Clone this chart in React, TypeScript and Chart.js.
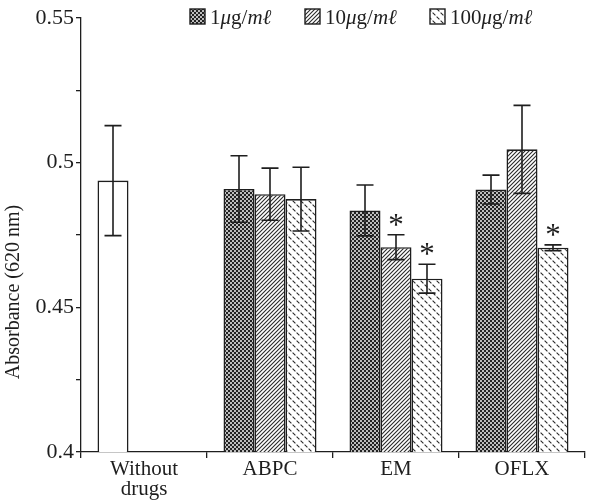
import React, { useEffect, useRef } from 'react';
import { Chart, registerables } from 'chart.js';

Chart.register(...registerables);

const categories: (string | string[])[] = [['Without', 'drugs'], 'ABPC', 'EM', 'OFLX'];
const controlValues = [0.4938, null, null, null];
const controlErrors = [0.019, null, null, null];
const dose1Values = [null, 0.4909, 0.4835, 0.4907];
const dose1Errors = [null, 0.0115, 0.0088, 0.005];
const dose10Values = [null, 0.4891, 0.4708, 0.5046];
const dose10Errors = [null, 0.009, 0.0043, 0.0152];
const dose100Values = [null, 0.4874, 0.4599, 0.4706];
const dose100Errors = [null, 0.011, 0.005, 0.001];
const dose10Sig = [false, false, true, false];
const dose100Sig = [false, false, true, true];
const legendDoses = ['1', '10', '100'];
const yMin = 0.4;
const yMax = 0.55;
const yStep = 0.025;
const yTitle = 'Absorbance (620 nm)';

const INK = '#1e1e1e';
const SERIF = "'Liberation Serif', 'Times New Roman', serif";

function makePattern(kind: string): CanvasPattern | string {
  const c = document.createElement('canvas');
  const g = c.getContext('2d');
  if (!g) return '#888';
  if (kind === 'cross') {
    c.width = 4; c.height = 4;
    g.fillStyle = '#222';
    g.fillRect(0, 0, 4, 4);
    g.fillStyle = '#fff';
    g.beginPath(); g.arc(1, 1, 0.95, 0, Math.PI * 2); g.fill();
    g.beginPath(); g.arc(3, 3, 0.95, 0, Math.PI * 2); g.fill();
  } else if (kind === 'diag') {
    c.width = 4; c.height = 4;
    g.fillStyle = '#fff';
    g.fillRect(0, 0, 4, 4);
    g.strokeStyle = '#2a2a2a';
    g.lineWidth = 1.1;
    g.beginPath();
    g.moveTo(0, 4); g.lineTo(4, 0);
    g.moveTo(-1, 1); g.lineTo(1, -1);
    g.moveTo(3, 5); g.lineTo(5, 3);
    g.stroke();
  } else {
    c.width = 8; c.height = 8;
    g.fillStyle = '#fff';
    g.fillRect(0, 0, 8, 8);
    g.strokeStyle = '#2a2a2a';
    g.lineWidth = 1.1;
    g.beginPath();
    g.moveTo(0.6, 4.6); g.lineTo(3.4, 7.4);
    g.moveTo(4.6, 0.6); g.lineTo(7.4, 3.4);
    g.stroke();
  }
  const p = g.createPattern(c, 'repeat');
  return p || '#888';
}

export default function App() {
  const ref = useRef<HTMLCanvasElement | null>(null);

  useEffect(() => {
    if (!ref.current) return;
    const crossP = makePattern('cross');
    const diagP = makePattern('diag');
    const dashP = makePattern('dash');
    const fills = [crossP, diagP, dashP];

    const series = [
      { values: controlValues, errors: controlErrors, sig: [false, false, false, false] },
      { values: dose1Values, errors: dose1Errors, sig: [false, false, false, false] },
      { values: dose10Values, errors: dose10Errors, sig: dose10Sig },
      { values: dose100Values, errors: dose100Errors, sig: dose100Sig },
    ];

    const overlay = {
      id: 'overlay',
      afterDatasetsDraw(chart: any) {
        const ctx = chart.ctx as CanvasRenderingContext2D;
        const ys = chart.scales.y;
        ctx.save();
        ctx.strokeStyle = INK;
        ctx.lineWidth = 1.6;
        series.forEach((s, di) => {
          const meta = chart.getDatasetMeta(di);
          s.values.forEach((v, i) => {
            if (v == null) return;
            const e = s.errors[i] as number;
            const bar = meta.data[i];
            const x = bar.x;
            const yt = ys.getPixelForValue(v + e);
            const yb = ys.getPixelForValue(v - e);
            ctx.beginPath();
            ctx.moveTo(x, yt); ctx.lineTo(x, yb);
            ctx.moveTo(x - 8.5, yt); ctx.lineTo(x + 8.5, yt);
            ctx.moveTo(x - 8.5, yb); ctx.lineTo(x + 8.5, yb);
            ctx.stroke();
            if (s.sig[i]) {
              ctx.fillStyle = INK;
              ctx.font = `31px ${SERIF}`;
              ctx.textAlign = 'center';
              ctx.textBaseline = 'alphabetic';
              ctx.fillText('*', x, yt + 0);
            }
          });
        });
        ctx.restore();
      },
      afterDraw(chart: any) {
        const ctx = chart.ctx as CanvasRenderingContext2D;
        ctx.save();
        // y title
        ctx.translate(14, 292);
        ctx.rotate(-Math.PI / 2);
        ctx.fillStyle = INK;
        ctx.font = `20px ${SERIF}`;
        ctx.textAlign = 'center';
        ctx.textBaseline = 'middle';
        ctx.fillText(yTitle, 0, 0);
        ctx.restore();

        // legend
        const swX = [190, 305, 430];
        ctx.save();
        legendDoses.forEach((d, k) => {
          const x0 = swX[k];
          const y0 = 9;
          const sz = 15;
          ctx.fillStyle = fills[k] as any;
          ctx.fillRect(x0, y0, sz, sz);
          ctx.strokeStyle = INK;
          ctx.lineWidth = 1.4;
          ctx.strokeRect(x0, y0, sz, sz);
          let tx = x0 + sz + 5;
          const by = y0 + sz;
          ctx.fillStyle = INK;
          ctx.textBaseline = 'alphabetic';
          ctx.textAlign = 'left';
          const parts: [string, boolean][] = [[d, false], ['\u03bc', true], ['g/', false], ['m\u2113', true]];
          parts.forEach(([t, it]) => {
            ctx.font = `${it ? 'italic ' : ''}21px ${SERIF}`;
            ctx.fillText(t, tx, by);
            tx += ctx.measureText(t).width;
          });
        });
        ctx.restore();
      },
    };

    const chart = new Chart(ref.current, {
      type: 'bar',
      data: {
        labels: categories as any,
        datasets: [
          { label: 'Without drugs', data: controlValues as any, stack: 'a', backgroundColor: '#fff', borderColor: INK, borderWidth: 1.6 },
          { label: '1\u03bcg/m\u2113', data: dose1Values as any, stack: 'a', backgroundColor: crossP as any, borderColor: INK, borderWidth: 1.6 },
          { label: '10\u03bcg/m\u2113', data: dose10Values as any, stack: 'b', backgroundColor: diagP as any, borderColor: INK, borderWidth: 1.6 },
          { label: '100\u03bcg/m\u2113', data: dose100Values as any, stack: 'c', backgroundColor: dashP as any, borderColor: INK, borderWidth: 1.6 },
        ],
      },
      options: {
        responsive: false,
        animation: false,
        events: [],
        layout: { padding: { top: 18, right: 23, left: 0, bottom: 0 } },
        datasets: { bar: { categoryPercentage: 0.738, barPercentage: 1 } } as any,
        plugins: { legend: { display: false }, tooltip: { enabled: false }, title: { display: false } },
        scales: {
          x: {
            offset: true,
            afterFit: (s: any) => { s.height = 49; },
            grid: {
              offset: true, display: true, drawOnChartArea: false, drawTicks: true, tickLength: 6, lineWidth: 1.3,
              color: (c: any) => (c.index >= categories.length ? 'rgba(0,0,0,0)' : INK),
            },
            border: { display: true, color: INK, width: 1.3 },
            ticks: { color: INK, font: { family: SERIF, size: 21, lineHeight: 0.95 }, padding: 2, maxRotation: 0 },
          },
          y: {
            min: yMin,
            max: yMax,
            stacked: false,
            afterFit: (s: any) => { s.width = 81; },
            grid: { display: true, drawOnChartArea: false, drawTicks: true, tickLength: 5, color: INK, lineWidth: 1.3 },
            border: { display: true, color: INK, width: 1.3 },
            ticks: {
              stepSize: yStep,
              color: INK,
              padding: 2,
              font: { family: SERIF, size: 22 },
              callback: (v: any) => {
                const r = Math.round(Number(v) * 1000);
                return r % 50 === 0 ? String(r / 1000) : '';
              },
            },
          },
        },
      },
      plugins: [overlay],
    });
    return () => chart.destroy();
  }, []);

  return (
    <canvas
      ref={ref}
      width={608}
      height={501}
      style={{ position: 'fixed', left: 0, top: 0, width: 608, height: 501, display: 'block', background: '#fff' }}
    />
  );
}
